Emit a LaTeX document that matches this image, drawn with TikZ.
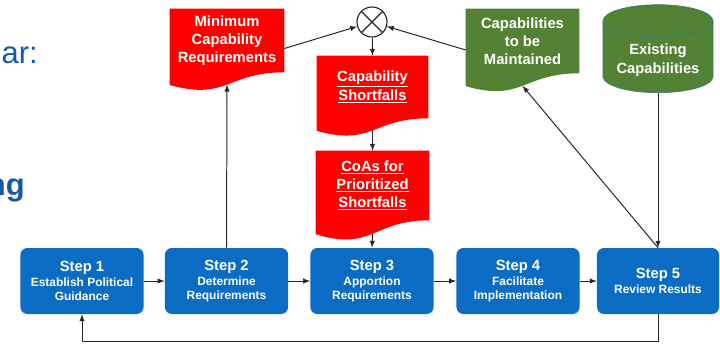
\documentclass[tikz,border=0pt]{standalone}
\usepackage{fontspec}
\setmainfont{Liberation Sans}
\usetikzlibrary{backgrounds,calc,shapes.geometric}

\definecolor{stepblue}{RGB}{11,108,195}
\definecolor{docred}{RGB}{255,0,0}
\definecolor{docgreen}{RGB}{84,130,53}
\definecolor{slideblue}{RGB}{16,90,168}
\definecolor{linegray}{RGB}{38,38,38}

\newcommand{\titlefont}{\fontsize{10.5}{12}\selectfont\bfseries}
\newcommand{\subfont}{\fontsize{8.5}{10}\selectfont\bfseries}
\newcommand{\docfont}{\fontsize{10.5}{13}\selectfont\bfseries}

% document shape with a wavy lower edge, behind node #1
\newcommand{\docfill}[2]{%
  \fill[#2] let \p1=(#1.north west), \p2=(#1.south east), \n1={\y1-\y2} in
    (\p1) -- (\x2,\y1) -- (\p2)
    .. controls ({(\x1+\x2)/2},\y2) and ({(\x1+\x2)/2},{\y2-0.45*\n1}) ..
    (\x1,{\y2-0.2*\n1}) -- cycle
    ({(\x1+\x2)/2},{\y2-0.194*\n1}) coordinate (#1-b);
}

\begin{document}
\begin{tikzpicture}[x=0.025cm, y=-0.025cm,
  stepbox/.style={rectangle, rounded corners=5pt, fill=stepblue, text=white, align=center,
    minimum width=3.08cm, minimum height=1.65cm, inner sep=1pt, font=\subfont},
  docbox/.style={rectangle, text=white, align=center, inner sep=1pt, font=\docfont},
  flow/.style={draw=linegray, line width=0.7pt, -latex},
  slidetext/.style={text=slideblue, font=\fontsize{22}{24}\selectfont, inner sep=0pt}]
  \useasboundingbox (0,0) rectangle (720,343);

  % slide text cut off at the left
  \node[slidetext, anchor=base east] (yeartxt) at (38,63) {ar:};
  \node[slidetext, anchor=base east, font=\fontsize{22}{24}\selectfont\bfseries] (plantxt) at (25,195) {ng};

  % the five steps
  \node[stepbox] (step1) at (82,281) {{\titlefont Step 1}\\[1pt]Establish Political\\Guidance};
  \node[stepbox] (step2) at (226.5,281) {{\titlefont Step 2}\\[1pt]Determine\\Requirements};
  \node[stepbox] (step3) at (372,281) {{\titlefont Step 3}\\[1pt]Apportion\\Requirements};
  \node[stepbox] (step4) at (518,281) {{\titlefont Step 4}\\[1pt]Facilitate\\Implementation};
  \node[stepbox, minimum width=3.05cm] (step5) at (658,281) {{\titlefont Step 5}\\[1pt]Review Results};

  % documents
  \node[docbox, minimum width=2.85cm, minimum height=1.575cm] (minreq) at (227,40.5) {Minimum\\Capability\\Requirements};
  \node[docbox, minimum width=2.775cm, minimum height=1.55cm] (short) at (372.5,87) {\underline{Capability}\\\underline{Shortfalls}};
  \node[docbox, minimum width=2.825cm, minimum height=1.725cm] (coa) at (372.5,185.5) {\underline{CoAs for}\\\underline{Prioritized}\\\underline{Shortfalls}};
  \node[docbox, minimum width=2.825cm, minimum height=1.6cm] (maint) at (522.5,41) {Capabilities\\to be\\Maintained};
  \begin{scope}[on background layer]
    \docfill{minreq}{docred}
    \docfill{short}{docred}
    \docfill{coa}{docred}
    \docfill{maint}{docgreen}
  \end{scope}

  % existing capabilities store
  \node[cylinder, shape border rotate=90, aspect=0.35, fill=docgreen, draw=stepblue!50!docgreen, line width=0.4pt,
    minimum width=2.75cm, minimum height=2.2cm, text=white, align=center, font=\docfont,
    anchor=south] (exist) at (658,93) {Existing\\Capabilities};

  % comparison
  \node[circle, draw=linegray, line width=0.8pt, minimum size=0.75cm, inner sep=0pt] (sum) at (372,22) {};
  \draw[linegray, line width=0.8pt] (sum.north west) -- (sum.south east) (sum.north east) -- (sum.south west);

  % connectors
  \draw[flow] (step1) -- (step2);
  \draw[flow] (step2) -- (step3);
  \draw[flow] (step3) -- (step4);
  \draw[flow] (step4) -- (step5);
  \draw[flow] (step2.north) -- (minreq-b);
  \draw[flow] (minreq.-8) -- (sum);
  \draw[flow] (maint.189) -- (sum);
  \draw[flow] (sum) -- (short.north);
  \draw[flow] (short-b) -- (coa.north);
  \draw[flow] (coa-b) -- (step3.north);
  \draw[flow] (step5.north) -- (maint-b);
  \draw[flow] (exist.south) -- (step5.north);
  \coordinate (loop) at (658,341);
  \draw[flow] (step5.south) -- (loop) -| (step1.south);
\end{tikzpicture}
\end{document}
